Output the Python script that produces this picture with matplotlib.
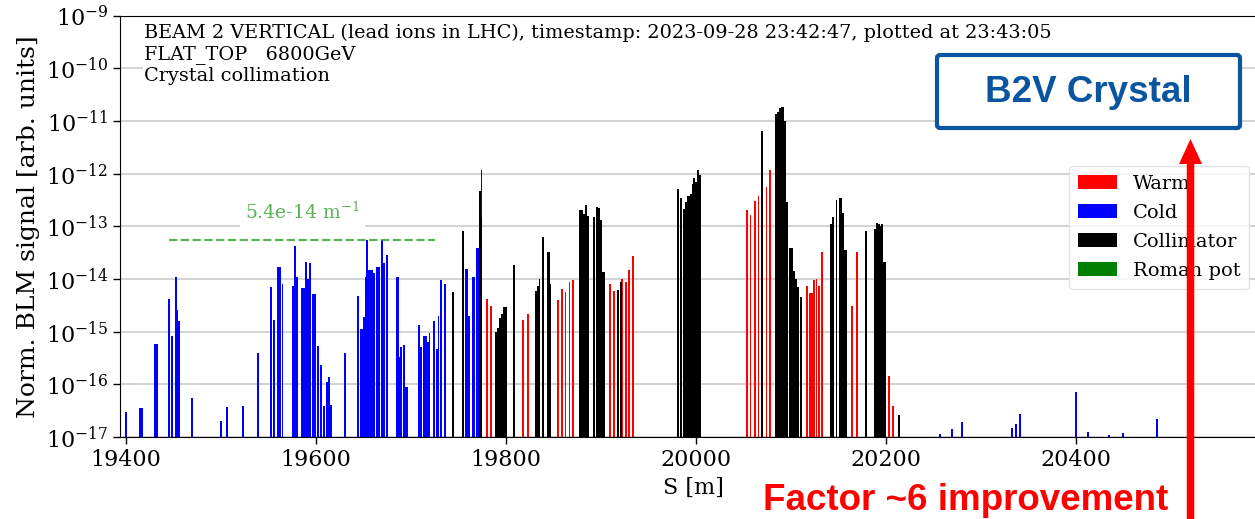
import matplotlib
matplotlib.use('Agg')
import matplotlib.pyplot as plt
import matplotlib.patches as mpatches
from matplotlib.transforms import IdentityTransform
from matplotlib.ticker import LogLocator, NullLocator

plt.rcParams['font.family'] = ['DejaVu Serif']
plt.rcParams['mathtext.fontset'] = 'dejavuserif'

# ---------------- data ----------------
cold_s = [19394, 19400, 19415.3, 19416.8, 19431.3, 19432.8, 19445.5, 19448.3, 19452.5, 19454, 19456.3,
          19470, 19500, 19506.6, 19523, 19539, 19553, 19556, 19560, 19562, 19565, 19576, 19578.6,
          19580.4, 19585.5, 19587.3, 19590, 19592.3, 19593.6, 19597.5, 19599, 19602, 19605.6,
          19608.7, 19611.6, 19613.8, 19616, 19630.5, 19644.5, 19647.3, 19649, 19650.8, 19652.5,
          19654.2, 19656, 19657.8, 19659.6, 19661.4, 19664.8, 19666.6, 19669.6, 19671.8, 19674.6,
          19685, 19686.3, 19687.8, 19689.8, 19693.3, 19695, 19696.5, 19708.4, 19710.5, 19714.2,
          19715.6, 19718, 19719.7, 19724, 19727.7, 19729.2, 19731.9, 19735.8, 19757.7, 19759,
          19761.7, 19765.3, 19766.8, 19769.3, 19770.9, 19774.4,
          20257, 20269.5, 20280, 20332.3, 20336.8, 20341.4, 20399.7, 20412.3, 20435, 20449.5, 20485.6]
cold_v = [8e-17, 3e-17, 3.5e-17, 3.5e-17, 5.8e-16, 5.8e-16, 4.2e-15, 8.3e-16, 1.07e-14, 2.6e-15, 1.6e-15,
          5.6e-17, 2e-17, 3.7e-17, 3.9e-17, 4e-16, 6.9e-15, 1.7e-15, 1.7e-14, 1.7e-14, 7.9e-15, 7.4e-15, 4.3e-14,
          1.07e-14, 6.8e-15, 6.8e-15, 2.1e-14, 1e-14, 2e-14, 5.2e-15, 5.2e-15, 5.4e-16, 2.3e-16,
          3.9e-17, 1.1e-16, 1.4e-16, 4e-17, 4e-16, 4.8e-15, 1.1e-15, 1.1e-15, 1.9e-15, 1.07e-14,
          5.5e-14, 1.5e-14, 1.5e-14, 1.5e-14, 1.3e-14, 1.7e-14, 1.7e-14, 5.5e-14, 2e-14, 2.9e-14,
          1.1e-14, 1.1e-14, 3.3e-16, 5.1e-16, 5.6e-16, 8.9e-17, 8.9e-17, 1.35e-15, 5.1e-16, 8.3e-16,
          8.3e-16, 6.5e-16, 9.5e-16, 1.6e-15, 4.6e-16, 2e-15, 9.5e-15, 8.1e-15, 1.55e-14, 1.55e-14,
          2e-15, 1.07e-14, 1.07e-14, 3.8e-14, 3.8e-14, 1.2e-12,
          1.14e-17, 1.4e-17, 1.95e-17, 1.5e-17, 1.8e-17, 2.7e-17, 7.1e-17, 1.26e-17, 1.07e-17, 1.2e-17, 2.2e-17]

warm_s = [19780, 19784.7, 19818.2, 19823.5, 19855, 19859.3, 19862.8, 19867, 19870.8, 19909.5, 19913.7,
          19922.4, 19926.3, 19929.8, 19933.7, 20053.9, 20057.5, 20062, 20065.9, 20074.4, 20077.9,
          20117.2, 20120, 20121.8, 20124.5, 20127, 20129.2, 20132.3, 20164.5, 20169.5, 20202.8, 20207.4]
warm_v = [4.1e-15, 3.1e-15, 1.7e-15, 2.2e-15, 4e-15, 6.6e-15, 5.6e-15, 8.9e-15, 9.5e-15, 8.1e-15, 5.9e-15,
          1e-14, 8.9e-15, 1.5e-14, 2.7e-14, 2e-13, 1.66e-13, 3e-13, 3.8e-13, 5.6e-13, 1.2e-12,
          7.4e-15, 5.4e-15, 5.4e-15, 9.5e-15, 1e-14, 7.4e-15, 3.2e-14, 3.1e-15, 3.3e-14, 1.45e-16, 3.9e-17]

coll_s = [19744, 19755.3, 19772.4, 19774.4, 19789.5, 19791.6, 19794, 19796, 19798.5, 19800.5, 19808.4,
          19832, 19834, 19835.5, 19839.3, 19844, 19845.4, 19847, 19878, 19880, 19882, 19884.2, 19886.3,
          19893, 19895.8, 19898, 19900, 19902, 19903.5, 19918.2, 19921,
          19981.6, 19984.2, 19987.7, 19989.8, 19991.8, 19993.3, 19994.9, 19996.6, 19998.4, 20000, 20002, 20004.2,
          20070, 20084.2, 20086.3, 20088.4, 20090.4, 20091.8, 20093.6, 20095.5, 20099.5, 20101, 20103.5,
          20105.6, 20107.7, 20110.3,
          20142, 20144.2, 20148, 20151.5, 20153.3, 20155, 20156.6, 20158, 20179.3, 20188.4, 20190.5,
          20192.6, 20194.7, 20196, 20197.6, 20199, 20213.4]
coll_v = [5.6e-15, 8.1e-14, 4.6e-13, 1.5e-13, 1e-15, 1.2e-15, 1.8e-15, 2.2e-15, 2.9e-15, 2.9e-15, 1.85e-14,
          5.8e-15, 7.5e-15, 1.02e-14, 6.3e-14, 3.2e-14, 3.2e-14, 8.1e-15, 2e-13, 2e-13, 1.7e-13, 2.5e-13, 1.6e-13,
          1.5e-13, 2.3e-13, 2.2e-13, 1.3e-13, 1.38e-14, 1.38e-14, 6.3e-15, 8.9e-15,
          5.2e-13, 3.5e-13, 2.1e-13, 2.9e-13, 3.8e-13, 3.8e-13, 4.1e-13, 6.3e-13, 8.2e-13, 7e-13, 1.15e-12, 9.4e-13,
          6.6e-12, 1.35e-11, 1.5e-11, 1.8e-11, 1.85e-11, 1.85e-11, 9.8e-12, 2.9e-13, 3.8e-14, 3.8e-14, 1.45e-14,
          1e-14, 7.1e-15, 4.5e-15,
          1.1e-13, 1.5e-13, 3.2e-13, 3.4e-13, 3.4e-13, 1.8e-13, 3.6e-14, 3.6e-14, 8.1e-14, 9.1e-14, 1.17e-13,
          1.1e-13, 1e-13, 1.13e-13, 2.1e-14, 2.1e-14, 2.6e-17]

legend_labels = ['Warm', 'Cold', 'Collimator', 'Roman pot']
legend_colors = ['red', 'blue', 'black', 'green']

ref_level = 5.4e-14
ref_span = [19446, 19726]
ref_label = '5.4e-14 m$^{-1}$'

x_ticks = [19400, 19600, 19800, 20000, 20200, 20400]
title_text = ('BEAM 2 VERTICAL (lead ions in LHC), timestamp: 2023-09-28 23:42:47, plotted at 23:43:05\n'
              'FLAT_TOP   6800GeV\nCrystal collimation')

# ---------------- figure ----------------
W, H = 1255, 519
fig = plt.figure(figsize=(W / 100, H / 100), dpi=100)
ax = fig.add_axes([120 / W, 1 - 437 / H, 1146 / W, (437 - 15.7) / H])
ax.set_yscale('log')
ax.set_ylim(1e-17, 1e-9)
ax.set_xlim(19394, 20600)
ax.set_axisbelow(True)
ax.grid(axis='y', color='#cccccc', linewidth=1.2)
ax.yaxis.set_major_locator(LogLocator(base=10, numticks=20))
ax.yaxis.set_minor_locator(NullLocator())
ax.set_xticks(x_ticks)

bw = 2.0
ax.bar(cold_s, cold_v, width=bw, bottom=1e-20, color='blue', linewidth=0)
ax.bar(warm_s, warm_v, width=bw, bottom=1e-20, color='red', linewidth=0)
ax.bar(coll_s, coll_v, width=bw, bottom=1e-20, color='black', linewidth=0)

ax.plot(ref_span, [ref_level, ref_level], ls='--', color='tab:green', alpha=0.8, lw=1.6)
ax.text(sum(ref_span) / 2, 1.87e-13, ref_label, color='tab:green', alpha=0.8, fontsize=13.5,
        ha='center', va='center', bbox=dict(facecolor='white', edgecolor='none', pad=4))

ax.tick_params(axis='both', labelsize=16, length=5, width=1, direction='out')
ax.set_xlabel('S [m]', fontsize=16, labelpad=4)
ax.set_ylabel('Norm. BLM signal [arb. units]', fontsize=18, labelpad=4)
ax.spines['right'].set_visible(False)

fig.text(144 / W, 1 - 24 / H, title_text, fontsize=13.9, ha='left', va='top', linespacing=1.2,
         bbox=dict(facecolor='white', edgecolor='none', pad=1))

handles = [mpatches.Patch(facecolor=c, label=l) for c, l in zip(legend_colors, legend_labels)]
leg = fig.legend(handles=handles, loc='upper right', bbox_to_anchor=(1249 / W, 1 - 166 / H),
                 fontsize=14, frameon=True, borderaxespad=0, handlelength=2.0, handleheight=0.7,
                 labelspacing=0.57, borderpad=0.45, handletextpad=0.8)
leg.get_frame().set_edgecolor('#dddddd')
leg.get_frame().set_alpha(0.8)

# overlay annotations (pixel coordinates)
idt = IdentityTransform()
box = mpatches.FancyBboxPatch((937, H - 128), 303, 73, boxstyle='round,pad=0,rounding_size=3',
                              facecolor='white', edgecolor='#0a55a0', linewidth=3, transform=idt,
                              zorder=10)
fig.add_artist(box)
fig.text(1088.5 / W, 1 - 92 / H, 'B2V Crystal', fontsize=26.5, fontweight='bold',
         family=['Liberation Sans', 'DejaVu Sans'], color='#0a55a0', ha='center', va='center',
         zorder=11)

arrow = mpatches.FancyArrow(1190.5, -5, 0, (H - 139) + 5, width=7.5, head_width=23, head_length=25,
                            length_includes_head=True, color='red', linewidth=0, transform=idt,
                            zorder=10)
fig.add_artist(arrow)

fig.text(966 / W, 9 / H, 'Factor ~6 improvement', fontsize=26.5, fontweight='bold',
         family=['Liberation Sans', 'DejaVu Sans'], color='red', ha='center', va='baseline',
         zorder=11)

fig.savefig('out.png', dpi=100)
